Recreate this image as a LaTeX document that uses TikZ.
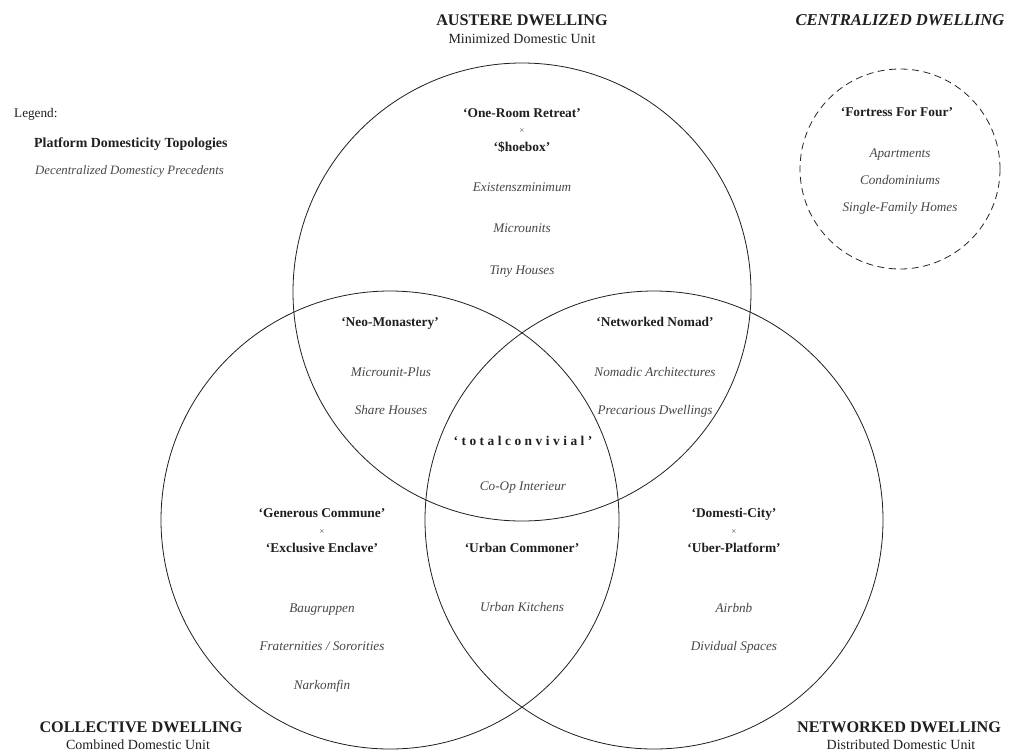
\documentclass[tikz,border=0pt]{standalone}
\usepackage{fontspec}
\setmainfont{Liberation Serif}
\begin{document}
\begin{tikzpicture}[x=1pt,y=-1pt,
  lbl/.style={inner sep=0pt, text=black!88},
  hd/.style={lbl, text height=11pt, text depth=0pt, font=\fontsize{16.2}{18}\selectfont\bfseries},
  hdi/.style={lbl, text height=11pt, text depth=0pt, font=\fontsize{16.6}{18}\selectfont\bfseries\itshape},
  sub/.style={lbl, text height=9.6pt, text depth=0pt, font=\fontsize{14}{16}\selectfont},
  ttl/.style={lbl, text height=9.2pt, text depth=0pt, font=\fontsize{13.4}{15}\selectfont\bfseries},
  itm/.style={lbl, text height=9pt, text depth=0pt, font=\fontsize{13.2}{15}\selectfont\itshape, text=black!72},
  tms/.style={lbl, text height=5pt, text depth=0pt, font=\fontsize{9}{10}\selectfont, text=black!70},
  ring/.style={circle, draw=black!88, line width=0.8pt, minimum size=458pt, inner sep=0pt},
  dring/.style={circle, draw=black!85, line width=0.8pt, dash pattern=on 7pt off 4.5pt, minimum size=200pt, inner sep=0pt}
]
\fill[white] (0,0) rectangle (1016,753);
\useasboundingbox (0,0) rectangle (1016,753);

% circles
\node[ring] (ctop) at (522,292) {};
\node[ring] (cleft) at (390,520) {};
\node[ring] (cright) at (654,520) {};
\node[dring] (ccen) at (900,169) {};

% headings
\node[hd] (hAus) at (522,20) {AUSTERE DWELLING};
\node[sub] (sAus) at (522,39) {Minimized Domestic Unit};
\node[hdi] (hCen) at (900,20) {CENTRALIZED DWELLING};
\node[hd] (hCol) at (141,727) {COLLECTIVE DWELLING};
\node[sub] (sCol) at (138,745) {Combined Domestic Unit};
\node[hd] (hNet) at (899,727) {NETWORKED DWELLING};
\node[sub] (sNet) at (901,745) {Distributed Domestic Unit};

% legend
\node[lbl, anchor=west, text height=9pt, text depth=0pt, font=\fontsize{13.2}{15}\selectfont] (leg) at (14,113) {Legend:};
\node[ttl, anchor=west, font=\fontsize{13.9}{15}\selectfont\bfseries] (legA) at (34,143) {Platform Domesticity Topologies};
\node[itm, anchor=west, font=\fontsize{12.8}{15}\selectfont\itshape] (legB) at (35,170) {Decentralized Domesticy Precedents};

% top circle
\node[ttl] (tA) at (522,113) {‘One-Room Retreat’};
\node[tms] (tX) at (522,131) {×};
\node[ttl] (tB) at (522,147) {‘\$hoebox’};
\node[itm] (t1) at (522,187) {Existenszminimum};
\node[itm] (t2) at (522,228) {Microunits};
\node[itm] (t3) at (522,270) {Tiny Houses};

% top-left overlap
\node[ttl] (nm) at (390,322) {‘Neo-Monastery’};
\node[itm] (nm1) at (391,372) {Microunit-Plus};
\node[itm] (nm2) at (391,410) {Share Houses};

% top-right overlap
\node[ttl] (nn) at (655,322) {‘Networked Nomad’};
\node[itm] (nn1) at (655,372) {Nomadic Architectures};
\node[itm] (nn2) at (655,410) {Precarious Dwellings};

% centre
\node[ttl] (tc) at (523,441) {\def\s{\hspace{3.5pt}}‘\s t\s o\s t\s a\s l\s c\s o\s n\s v\s i\s v\s i\s a\s l\s ’};
\node[itm] (tc1) at (523,486) {Co-Op Interieur};

% left circle
\node[ttl] (lA) at (322,513) {‘Generous Commune’};
\node[tms] (lX) at (322,532) {×};
\node[ttl] (lB) at (322,548) {‘Exclusive Enclave’};
\node[itm] (l1) at (322,608) {Baugruppen};
\node[itm] (l2) at (322,646) {Fraternities / Sororities};
\node[itm] (l3) at (322,685) {Narkomfin};

% bottom overlap
\node[ttl] (uc) at (522,548) {‘Urban Commoner’};
\node[itm] (uc1) at (522,607) {Urban Kitchens};

% right circle
\node[ttl] (rA) at (734,513) {‘Domesti-City’};
\node[tms] (rX) at (734,532) {×};
\node[ttl] (rB) at (734,548) {‘Uber-Platform’};
\node[itm] (r1) at (734,608) {Airbnb};
\node[itm] (r2) at (734,646) {Dividual Spaces};

% centralized
\node[ttl] (fA) at (897,112) {‘Fortress For Four’};
\node[itm] (f1) at (900,153) {Apartments};
\node[itm] (f2) at (900,180) {Condominiums};
\node[itm] (f3) at (900,207) {Single-Family Homes};
\end{tikzpicture}
\end{document}
